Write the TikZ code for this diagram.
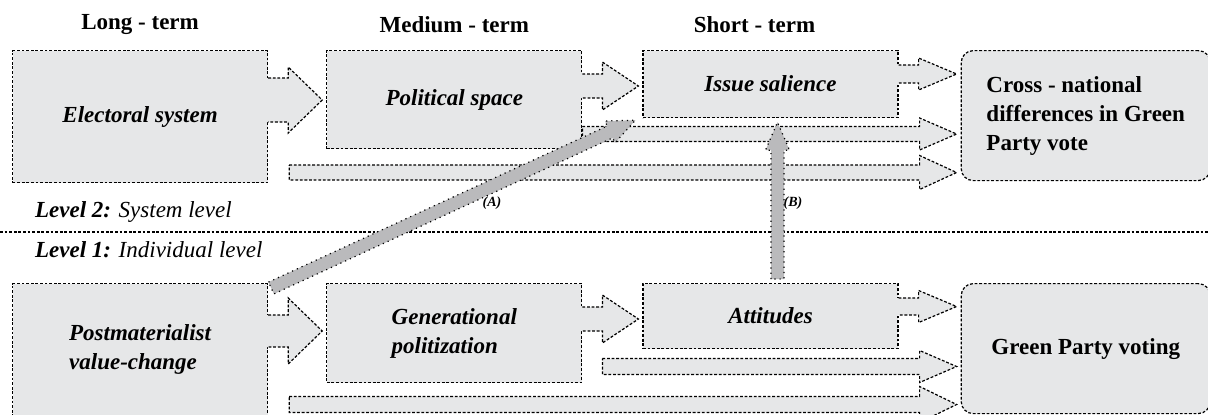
\documentclass[tikz,border=0pt]{standalone}
\usepackage{fontspec}
\setmainfont{Liberation Serif}
\usetikzlibrary{positioning, calc}

\definecolor{boxgray}{RGB}{230,231,232}
\definecolor{arrowgray}{RGB}{186,186,188}

% block arrow growing out of a box: from, to, centre y, neck half, head half
\newcommand{\blockarr}[5]{%
  \path ([xshift=-0.8pt]#1.east) coordinate (ba) ([xshift=10pt]#1.east) coordinate (bn) ([xshift=-2pt]#2.west) coordinate (bt);
  \fill[boxgray] (ba |- 0,#3-#4) -- (bn |- 0,#3-#4) -- (bn |- 0,#3-#5) -- (bt |- 0,#3) -- (bn |- 0,#3+#5) -- (bn |- 0,#3+#4) -- (ba |- 0,#3+#4) -- cycle;
  \draw[dashline] (#1.east |- 0,#3-#4) -- (bn |- 0,#3-#4) -- (bn |- 0,#3-#5) -- (bt |- 0,#3) -- (bn |- 0,#3+#5) -- (bn |- 0,#3+#4) -- (#1.east |- 0,#3+#4);
}
% long bar arrow: start, target, centre y, half, head half
\newcommand{\longbar}[5]{%
  \path ([xshift=-20.5pt]#2.west) coordinate (lb) ([xshift=-2pt]#2.west) coordinate (lt);
  \filldraw[fill=boxgray, dashline] (#1 |- 0,#3-#4) -- (lb |- 0,#3-#4) -- (lb |- 0,#3-#5) -- (lt |- 0,#3) -- (lb |- 0,#3+#5) -- (lb |- 0,#3+#4) -- (#1 |- 0,#3+#4) -- cycle;
}
% solid grey arrow between two coordinates
\newcommand{\fatarr}[2]{%
  \coordinate (fh) at ($(#2)!14pt!(#1)$);
  \filldraw[fatline] ($(#1)!3.25pt!90:(#2)$) -- ($(fh)!3.25pt!90:(#2)$) -- ($(fh)!6pt!90:(#2)$) -- (#2) -- ($(fh)!6pt!-90:(#2)$) -- ($(fh)!3.25pt!-90:(#2)$) -- ($(#1)!3.25pt!-90:(#2)$) -- cycle;
}

\begin{document}
\begin{tikzpicture}[
    x=0.5pt, y=-0.5pt,
    dashline/.style = {line width=0.6pt, dash pattern=on 1.4pt off 0.9pt},
    box/.style = {draw=black, fill=boxgray, dashline, minimum width=127.5pt, inner sep=2pt, align=center, font=\fontsize{11.5}{14.5}\selectfont\bfseries\itshape},
    endbox/.style = {box, rounded corners=6pt, minimum width=124.5pt, minimum height=65pt, align=left, font=\fontsize{11.5}{14.5}\selectfont\bfseries},
    head/.style = {font=\fontsize{11.5}{14}\selectfont\bfseries},
    level/.style = {anchor=west, font=\fontsize{11.5}{14}\selectfont\itshape},
    fatline/.style = {fill=arrowgray, draw=black, line width=0.6pt, dotted},
    lbl/.style = {font=\fontsize{7}{8}\selectfont\bfseries\itshape}
]
\useasboundingbox (0,0) rectangle (1208,414);
\clip (0,0) rectangle (1208,414);

% level 2
\node[box, anchor=north west, minimum height=66pt] (elec) at (12,50) {Electoral system};
\node[box, right=29pt of elec.north east, anchor=north west, minimum height=49pt] (pol) {Political space};
\node[box, right=30pt of pol.north east, anchor=north west, minimum height=33.5pt] (issue) {Issue salience};
\node[endbox, right=31pt of issue.north east, anchor=north west] (cross) {Cross - national\\differences in Green\\Party vote};

\node[head] (hlong) at (elec.north |- 0,25) {Long - term};
\node[head] (hmed) at (pol.north |- 0,25) {Medium - term};
\node[head] (hshort) at ($(issue.north |- 0,25)+(-16,0)$) {Short - term};

% level 1
\node[box, anchor=north west, minimum height=66pt, align=left] (post) at (12,283) {Postmaterialist\\value-change};
\node[box, right=29pt of post.north east, anchor=north west, minimum height=49.5pt, align=left] (gen) {Generational\\politization};
\node[box, right=30pt of gen.north east, anchor=north west, minimum height=32.5pt] (att) {Attitudes};
\node[endbox, right=31pt of att.north east, anchor=north west] (green) {Green Party voting};

\node[level] (lev2) at (28,212) {\textbf{Level 2:} System level};
\coordinate (sepW) at (0,232);
\coordinate (sepE) at (1208,232);
\draw[dashline] (sepW) -- (sepE);
\node[level] (lev1) at (28,250) {\textbf{Level 1:} Individual level};

\blockarr{elec}{pol}{100}{22}{33}
\blockarr{pol}{issue}{86}{12}{24}
\blockarr{issue}{cross}{74}{9}{16}
\blockarr{post}{gen}{331}{16}{33}
\blockarr{gen}{att}{319}{12}{24}
\blockarr{att}{green}{306.5}{8.5}{16}

\coordinate (b2) at ([xshift=10.5pt]elec.east);
\coordinate (b3) at ([xshift=10pt]gen.east);
\coordinate (b4) at ([xshift=10.5pt]post.east);
\longbar{pol.east}{cross}{134}{7.5}{16}
\longbar{b2}{cross}{172.5}{7.5}{17}
\longbar{b3}{green}{366.5}{8}{16}
\longbar{b4}{green}{404.5}{8}{18}

\coordinate (As) at ($(post.north east)+(3,5)$);
\coordinate (Ae) at ($(issue.south west)+(-7,2)$);
\coordinate (Bs) at ($(att.north)+(7,-4)$);
\coordinate (Be) at ($(issue.south)+(7,4)$);
\fatarr{As}{Ae}
\fatarr{Bs}{Be}

\node[lbl] (labA) at (492,203) {(A)};
\node[lbl] (labB) at (793,203) {(B)};

\end{tikzpicture}
\end{document}
